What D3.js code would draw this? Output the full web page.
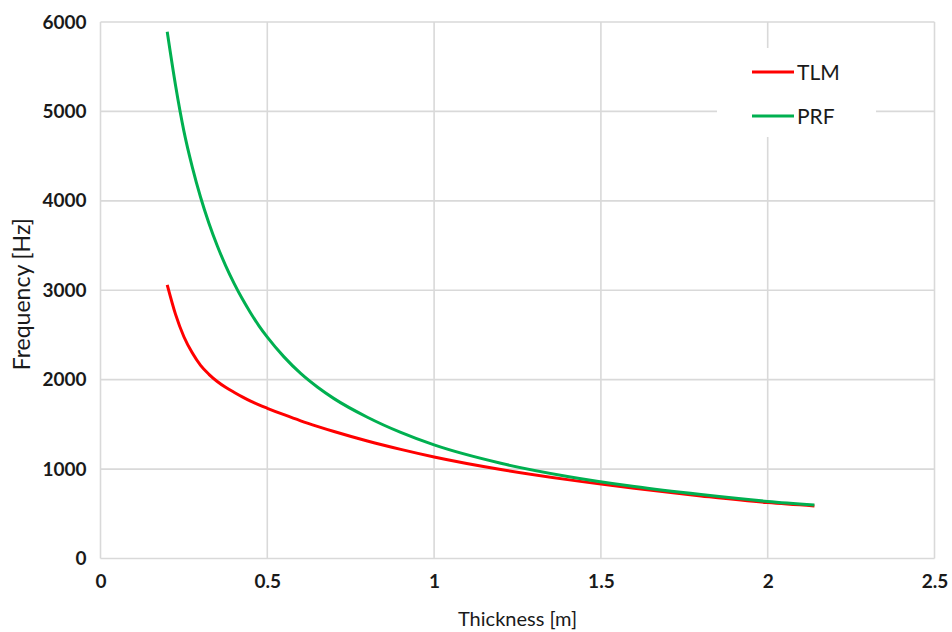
<!DOCTYPE html>
<html>
<head>
<meta charset="utf-8">
<script src="https://cdn.jsdelivr.net/npm/d3@7"></script>
<style>
  html, body { margin: 0; padding: 0; background: #fff; }
  svg { display: block; }
</style>
</head>
<body>
<script>
// Thickness samples [m]
const thickness = [0.2, 0.225, 0.25, 0.275, 0.3, 0.325, 0.35, 0.375, 0.4, 0.425, 0.45, 0.475, 0.5,
                   0.55, 0.6, 0.65, 0.7, 0.8, 0.9, 1.0, 1.2, 1.4, 1.6, 1.8, 2.0, 2.14];
// Frequency [Hz] for each series
const tlmValues = [3060, 2730, 2480, 2300, 2160, 2060, 1980, 1915, 1860, 1808, 1760, 1718, 1680,
                   1608, 1540, 1478, 1420, 1314, 1220, 1135, 995, 882, 785, 700, 625, 588];
const prfValues = [5890, 5290, 4780, 4380, 4040, 3750, 3498, 3276, 3080, 2904, 2746, 2602, 2475,
                   2255, 2070, 1918, 1788, 1580, 1410, 1270, 1065, 918, 805, 715, 638, 597];

const seriesNames = ["TLM", "PRF"];
const seriesColors = ["#ff0000", "#00b050"];

const xTicks = [0, 0.5, 1, 1.5, 2, 2.5];
const xTickLabels = ["0", "0.5", "1", "1.5", "2", "2.5"];
const yTicks = [0, 1000, 2000, 3000, 4000, 5000, 6000];

const W = 952, H = 632;
const margin = { left: 100.5, right: 952 - 934.5, top: 22, bottom: 632 - 558.5 };
const FONT = "Lato, 'Open Sans', sans-serif";

const svg = d3.select("body").append("svg").attr("width", W).attr("height", H);

const x = d3.scaleLinear().domain([0, 2.5]).range([margin.left, W - margin.right]);
const y = d3.scaleLinear().domain([0, 6000]).range([H - margin.bottom, margin.top]);

// Gridlines
const grid = svg.append("g").attr("stroke", "#d9d9d9").attr("stroke-width", 1.6);
grid.selectAll("line.v").data(xTicks).join("line")
  .attr("x1", d => x(d)).attr("x2", d => x(d))
  .attr("y1", y(0)).attr("y2", y(6000));
grid.selectAll("line.h").data(yTicks).join("line")
  .attr("x1", x(0)).attr("x2", x(2.5))
  .attr("y1", d => y(d)).attr("y2", d => y(d));

// Axes (labels only)
const xAxis = d3.axisBottom(x).tickValues(xTicks).tickFormat((d, i) => xTickLabels[i]).tickSize(0).tickPadding(16);
const yAxis = d3.axisLeft(y).tickValues(yTicks).tickFormat(d3.format("d")).tickSize(0).tickPadding(14);

const gx = svg.append("g").attr("transform", `translate(0,${y(0)})`).call(xAxis);
const gy = svg.append("g").attr("transform", `translate(${x(0)},0)`).call(yAxis);
[gx, gy].forEach(g => {
  g.select(".domain").remove();
  g.selectAll("text").attr("font-family", FONT).attr("font-size", 19).attr("font-weight", "bold").attr("fill", "#1a1a1a");
});

// Axis titles
svg.append("text")
  .attr("x", (x(0) + x(2.5)) / 2).attr("y", 626)
  .attr("text-anchor", "middle")
  .attr("font-family", FONT).attr("font-size", 20).attr("fill", "#1a1a1a")
  .text("Thickness [m]");
svg.append("text")
  .attr("transform", `translate(30,${(y(0) + y(6000)) / 2 + 4}) rotate(-90)`)
  .attr("text-anchor", "middle")
  .attr("font-family", FONT).attr("font-size", 23).attr("fill", "#1a1a1a")
  .text("Frequency [Hz]");

// Legend background
svg.append("rect").attr("x", 717).attr("y", 48).attr("width", 159).attr("height", 89).attr("fill", "#fff");

// Series lines
const line = d3.line().x((d, i) => x(thickness[i])).y(d => y(d)).curve(d3.curveMonotoneX);
[tlmValues, prfValues].forEach((vals, k) => {
  svg.append("path").datum(vals)
    .attr("fill", "none")
    .attr("stroke", seriesColors[k])
    .attr("stroke-width", 3)
    .attr("stroke-linejoin", "round")
    .attr("d", line);
});

// Legend entries
const legend = svg.append("g");
seriesNames.forEach((name, k) => {
  const ly = 72 + k * 44;
  legend.append("line")
    .attr("x1", 752).attr("x2", 794).attr("y1", ly).attr("y2", ly)
    .attr("stroke", seriesColors[k]).attr("stroke-width", 3);
  legend.append("text")
    .attr("x", 797).attr("y", ly + 7.5)
    .attr("font-family", FONT).attr("font-size", 21).attr("fill", "#1a1a1a")
    .text(name);
});
</script>
</body>
</html>
